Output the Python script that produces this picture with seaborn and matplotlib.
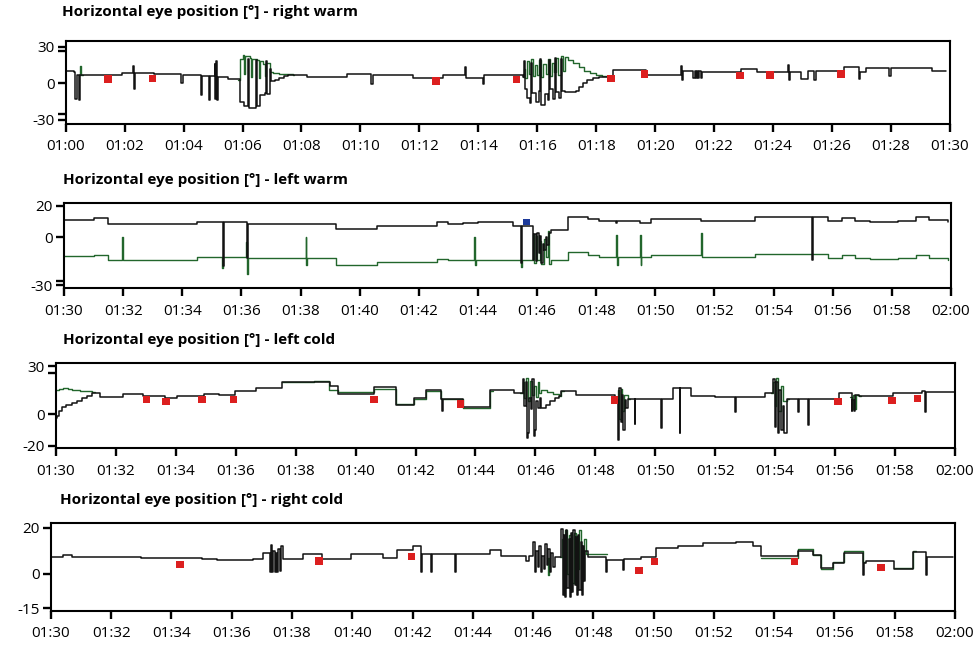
import matplotlib
matplotlib.use("Agg")
import matplotlib.pyplot as plt
import pandas as pd
import seaborn as sns

# ---------------- data ----------------
TITLES = [
    "Horizontal eye position [°] - right warm",
    "Horizontal eye position [°] - left warm",
    "Horizontal eye position [°] - left cold",
    "Horizontal eye position [°] - right cold",
]
XTICKS = [0, 2, 4, 6, 8, 10, 12, 14, 16, 18, 20, 22, 24, 26, 28, 30]
XLABELS_1 = ["01:00", "01:02", "01:04", "01:06", "01:08", "01:10", "01:12", "01:14",
             "01:16", "01:18", "01:20", "01:22", "01:24", "01:26", "01:28", "01:30"]
XLABELS_2 = ["01:30", "01:32", "01:34", "01:36", "01:38", "01:40", "01:42", "01:44",
             "01:46", "01:48", "01:50", "01:52", "01:54", "01:56", "01:58", "02:00"]
YTICKS = [[-30, 0, 30], [-30, 0, 20], [-20, 0, 30], [-15, 0, 20]]
YMINOR = [[-25.4, 26.7], [-27.5], [25.7], []]
YLIMS = [(-33.4, 34.9), (-32.0, 21.5), (-21.6, 32.4), (-16.1, 22.3)]

# time in minutes from panel start, value in degrees (step traces)
P1_BLACK = [
    (0.00, 10), (0.28, 9), (0.33, -13), (0.37, 7), (0.44, -14), (0.47, 7),
    (1.90, 8.5), (2.28, 14), (2.31, -5), (2.34, 8.5), (3.00, 7.5), (3.93, 0.5), (3.97, 7),
    (4.30, 6.5), (4.58, -10), (4.61, 6), (4.86, -14), (4.89, 6), (5.05, 16), (5.08, -13),
    (5.11, 18), (5.14, -14), (5.17, 5), (5.50, 3.5), (5.90, 3), (5.93, -15), (6.05, -19),
    (6.20, 20), (6.23, -20), (6.45, 19), (6.48, -19), (6.60, -10), (6.75, -8), (6.80, 18),
    (6.83, -9), (6.93, 12), (6.96, 1.5), (7.10, 3), (7.25, 4.5), (7.40, 5.8), (7.55, 6.5),
    (7.70, 7.2), (8.20, 5), (9.55, 7.5), (10.35, -0.5), (10.42, 7), (11.80, 4.5), (12.80, 7),
    (13.55, 13), (13.58, 4.5), (14.16, -0.5), (14.19, 6.5), (15.50, 5),
    (15.55, 18), (15.58, -5), (15.65, -12), (15.75, -16), (15.80, 17), (15.83, -8),
    (15.95, -15), (16.05, -6), (16.10, 20), (16.13, -18), (16.25, -9), (16.35, -14),
    (16.40, 19), (16.43, -5), (16.55, -13), (16.60, 21), (16.63, -7), (16.75, -12),
    (16.80, 20), (16.83, -6), (16.93, -7), (17.30, -6), (17.40, -3), (17.55, 0),
    (17.70, 2.5), (17.90, 4), (18.10, 5), (18.45, 5.4), (18.56, 10.9), (19.70, 7),
    (20.88, 14), (20.91, 3), (20.94, 10), (21.30, 4), (21.34, 10), (21.38, 4), (21.42, 10),
    (21.46, 4), (21.50, 10), (21.54, 4), (21.58, 9.5), (22.90, 11.5), (23.47, 9.5),
    (24.50, 15), (24.53, 3), (24.56, 9.5), (24.95, 3.5), (25.20, 10), (25.40, 2.5),
    (25.47, 10), (26.40, 13), (26.90, 3.5), (26.96, 9), (27.15, 12.3), (27.95, 6),
    (28.00, 12.3), (29.40, 10.3), (29.86, 10.3),
]
P1_GREEN = [
    [(0.45, 7), (0.50, 14), (0.53, 7), (0.60, 7)],
    [(5.85, 3), (5.90, 20), (6.00, 23), (6.05, 8), (6.08, 22), (6.25, 21), (6.30, 5),
     (6.33, 20), (6.50, 19), (6.55, 4), (6.58, 18), (6.70, 16), (6.75, 6), (6.78, 17),
     (6.93, 9), (7.05, 8.5), (7.25, 8), (7.45, 7.6), (7.70, 7.2), (7.75, 7.2)],
    [(15.50, 5), (15.55, 12), (15.60, 4), (15.65, 18), (15.72, 8), (15.78, 20), (15.85, 6),
     (15.92, 15), (16.00, 7), (16.05, 19), (16.12, 5), (16.20, 16), (16.28, 8), (16.35, 20),
     (16.42, 6), (16.50, 17), (16.58, 9), (16.65, 21), (16.72, 7), (16.80, 22), (16.88, 10),
     (16.93, 21.8), (17.05, 19.5), (17.20, 16.5), (17.40, 13.6), (17.60, 10.5),
     (17.80, 8.5), (18.00, 7), (18.20, 6), (18.45, 5.4), (18.50, 5.4)],
]
P1_RED_T = [1.44, 2.95, 12.57, 15.30, 18.50, 19.64, 22.88, 23.90, 26.30]
P1_RED_V = [3.5, 4.0, 1.9, 3.3, 4.0, 7.6, 6.2, 6.8, 7.6]

P2_BLACK = [
    (0.00, 11), (1.00, 12), (1.50, 8.4), (4.50, 9.9), (5.37, -18), (5.40, 9.9),
    (6.18, -13), (6.21, 8.4), (9.20, 5.2), (10.60, 7.1), (12.60, 9.6), (13.00, 8.2),
    (13.50, 9.4), (14.00, 9.9), (15.20, 7), (15.45, -16), (15.50, 7.4), (15.85, -14),
    (15.90, 2), (15.95, -15), (16.00, 3), (16.05, -10), (16.10, 1), (16.15, -16),
    (16.20, -4), (16.25, -8), (16.30, 0), (16.35, -5), (16.40, 3), (16.47, 4.6),
    (17.04, 13), (17.72, 11.3), (18.10, 10.5), (18.68, 9), (18.71, 10.5), (19.47, 8.8),
    (19.86, 11.6), (21.56, 10.5), (23.36, 12.6), (25.30, -14), (25.33, 12.6),
    (25.85, 10.3), (26.30, 12), (26.76, 10.5), (27.25, 9.6), (28.20, 10.5),
    (28.80, 12.6), (29.24, 11), (29.90, 10),
]
P2_GREEN = [[
    (0.00, -11.6), (1.00, -11), (1.50, -13.9), (1.97, 0), (2.00, -13.9), (4.50, -12.6),
    (5.35, -19), (5.38, -12.6), (6.15, -3), (6.18, -23), (6.21, -13), (8.17, 0),
    (8.20, -17.5), (8.23, -13), (9.20, -17.5), (10.60, -15.4), (12.60, -13.5),
    (13.00, -14.5), (13.86, 0), (13.89, -17.5), (13.92, -14.4), (15.45, -18.6),
    (15.48, -14), (15.85, 2), (15.88, -16), (15.95, 1), (16.00, -14), (16.10, -2),
    (16.15, -17), (16.22, -1), (16.30, -12), (16.38, 4), (16.42, -17), (16.47, -14.4),
    (17.04, -9.1), (17.72, -10.8), (18.10, -12.3), (18.68, 1.5), (18.71, -17.6),
    (18.74, -12.3), (19.47, 1.5), (19.50, -17.6), (19.53, -12.3), (19.86, -11.2),
    (21.56, 2.5), (21.59, -12.3), (23.36, -10.6), (25.85, -12.7), (26.30, -11.3),
    (26.76, -12.7), (27.25, -13.5), (28.20, -12.7), (28.80, -11), (29.24, -12.7),
    (29.90, -13.9),
]]
P2_BLUE_T = [15.65]
P2_BLUE_V = [9.7]

P3_BLACK = [
    (0.00, -2.7), (0.05, -1), (0.10, 2), (0.19, 4.6), (0.35, 6), (0.53, 6.7), (0.70, 8.5),
    (0.87, 9.9), (1.05, 11.5), (1.21, 13), (1.47, 10.5), (2.25, 12.6), (2.92, 11.4),
    (3.65, 10), (4.04, 11.4), (4.93, 12.6), (5.43, 11.9), (5.99, 14.7), (6.66, 16.2),
    (7.55, 20.4), (9.16, 18), (9.40, 12.6), (10.60, 16.8), (11.34, 5.7), (11.95, 9.9),
    (12.34, 15.1), (12.84, 9.2), (12.87, 2.1), (12.90, 9.2), (13.60, 4.6), (14.50, 15.1),
    (15.30, 13.5), (15.57, 22), (15.62, 5), (15.67, 20), (15.72, -15), (15.76, -12),
    (15.80, 10), (15.85, 3), (15.90, 22), (15.95, -14), (15.99, -10), (16.02, 8),
    (16.08, 4), (16.15, 10), (16.19, 3.6), (16.35, 6), (16.50, 8.5), (16.65, 10.3),
    (16.80, 11.2), (16.86, 14.7),
    (17.36, 12), (18.64, 8.8), (18.75, -16.4), (18.80, 16.2), (18.84, -5), (18.88, 12),
    (18.93, -10), (18.98, 9), (19.03, 4), (19.09, 9.3), (19.31, -6), (19.34, 9.3),
    (20.18, -9), (20.22, 9.3), (20.60, 16.2), (20.81, -12), (20.84, 16.2), (21.20, 11.4),
    (22.00, 10.8), (22.65, 1.5), (22.69, 10.8), (23.66, 13.5), (23.93, 22), (23.98, -8),
    (24.03, 20), (24.08, -12), (24.13, 15), (24.18, -10), (24.25, 5), (24.30, -12),
    (24.38, 9.3), (24.76, 1.5), (24.79, 9.3), (25.10, -7), (25.13, 9.3), (26.12, 13),
    (26.55, 2.1), (26.58, 9), (26.62, 2.1), (26.66, 12), (26.80, 11.4), (27.92, 13),
    (28.90, 14.7), (29.00, 1.5), (29.03, 14), (30.00, 14),
]
P3_GREEN = [
    [(0.00, 15), (0.10, 15.5), (0.25, 16.2), (0.40, 15.5), (0.53, 15), (0.80, 14.3),
     (1.21, 13.8), (1.30, 13.8)],
    [(7.55, 20.4), (8.60, 21), (9.05, 21), (9.10, 15.1), (9.40, 13.7), (10.60, 15.8),
     (11.34, 6.5), (11.95, 9.5), (12.34, 14.5), (12.84, 9.8), (13.60, 4), (14.50, 14.5),
     (14.60, 14.5)],
    [(15.50, 13.5), (15.57, 20), (15.63, 10), (15.70, 22.5), (15.76, 8), (15.82, 21),
     (15.88, 12), (15.95, 18), (16.02, 11), (16.08, 20), (16.12, 13), (16.19, 15),
     (16.40, 13.8), (16.60, 12.5), (16.80, 11.6), (16.86, 14.7), (16.95, 14.7)],
    [(18.72, 8.8), (18.76, 15), (18.80, -3), (18.85, 16), (18.90, 2), (18.95, 12),
     (19.09, 9.3), (19.15, 9.3)],
    [(23.85, 13.5), (23.93, 20), (23.98, 5), (24.03, 22.5), (24.10, 2), (24.18, 18),
     (24.25, 8), (24.38, 9.3), (24.45, 9.3)],
    [(26.50, 11), (26.55, 3), (26.60, 12), (26.65, 3), (26.70, 12), (26.80, 11.4),
     (26.85, 11.4)],
]
P3_RED_T = [3.03, 3.67, 4.87, 5.93, 10.61, 13.49, 18.64, 26.10, 27.90, 28.76]
P3_RED_V = [9.2, 7.8, 9.2, 9.2, 9.2, 6.3, 8.8, 7.8, 8.4, 9.9]

P4_BLACK = [
    (0.00, 7.5), (0.41, 8.2), (0.69, 7.5), (3.00, 7), (5.00, 6.5), (5.50, 6.1),
    (6.70, 6.7), (7.04, 9), (7.26, 1), (7.30, 12.6), (7.34, 1), (7.38, 10), (7.42, 1),
    (7.46, 9), (7.50, 1), (7.55, 11), (7.60, 1.5), (7.64, 12), (7.70, 6.6), (8.37, 8.7),
    (8.98, 6.6), (9.97, 8.7), (11.02, 6.8), (11.47, 10.4), (12.00, 12.3), (12.29, 1),
    (12.33, 8.7), (12.62, 1), (12.65, 8.7), (13.40, 1), (13.43, 8.7), (14.56, 10.4),
    (14.95, 7.8), (15.78, 5.5), (15.85, 7.8), (16.00, 13.7), (16.05, 1), (16.10, 10),
    (16.15, 3), (16.20, 12), (16.25, 1), (16.30, 8), (16.35, 2), (16.40, 13), (16.45, 4),
    (16.50, 11), (16.55, 1), (16.60, 9), (16.65, 3), (16.72, 7.5), (16.94, 19.4),
    (16.98, -9), (17.02, 17), (17.06, -10), (17.10, 19), (17.14, -6), (17.18, 15),
    (17.22, -9.9), (17.26, 18), (17.30, -8), (17.34, 19), (17.38, -5), (17.42, 16),
    (17.46, -9), (17.50, 17), (17.54, -7), (17.58, 14), (17.62, -9), (17.66, 12),
    (17.70, -3), (17.74, 10), (17.82, 7.5), (18.43, 1), (18.46, 6.1), (18.98, 1.8),
    (19.01, 6.6), (19.59, 7.3), (20.09, 11.3), (20.80, 12.1), (21.63, 13.3),
    (22.74, 13.8), (23.30, 12.2), (23.57, 7.8), (24.78, 10.1), (25.28, 8.2), (25.56, 2.4),
    (25.95, 4.9), (26.33, 9.3), (26.94, -0.5), (26.97, 4.9), (27.05, 5.8), (27.99, 2.0),
    (28.60, 9.7), (29.04, -0.4), (29.07, 7.5), (29.93, 7.5),
]
P4_GREEN = [
    [(16.45, 7), (16.50, -0.5), (16.53, 7), (16.56, 7)],
    [(16.90, 7.5), (16.96, 15), (17.00, -2), (17.05, 19), (17.12, 0), (17.20, 17),
     (17.28, -4), (17.36, 18), (17.44, 2), (17.52, 19), (17.60, -2), (17.68, 15),
     (17.76, 8.5), (18.43, 8.5), (18.45, 8.5)],
    [(23.57, 6.8), (24.78, 10.8), (25.28, 8.2), (25.56, 2.0), (25.95, 5.4), (26.33, 9.8),
     (26.94, 5), (27.00, 5)],
    [(27.99, 2.6), (28.60, 9.9), (28.70, 9.9)],
]
P4_RED_T = [4.28, 8.90, 11.96, 19.51, 20.03, 24.68, 27.55]
P4_RED_V = [4.2, 5.6, 7.5, 1.4, 5.4, 5.4, 2.9]

# ---------------- style ----------------
sns.set_style("ticks")
plt.rcParams["font.family"] = ["Open Sans", "DejaVu Sans"]
TICK_FONT = ["Liberation Sans Narrow", "Open Sans", "DejaVu Sans"]

BLACK = "#121212"
GREEN = "#22662c"
RED = "#dc1f1f"
BLUE = "#1d3a9a"

fig = plt.figure(figsize=(9.8, 6.48), dpi=100)
fig.patch.set_facecolor("white")

# axes rectangles in figure fraction (layout)
RECTS = [
    (0.0670, 0.8086, 0.9023, 0.1285),
    (0.0653, 0.5551, 0.9051, 0.1312),
    (0.0571, 0.3082, 0.9173, 0.1321),
    (0.0520, 0.0571, 0.9224, 0.1363),
]
TITLE_POS = [(0.0633, 0.9815), (0.0640, 0.7222), (0.0640, 0.4753), (0.0612, 0.2284)]

panels = [
    (P1_BLACK, P1_GREEN, P1_RED_T, P1_RED_V, XLABELS_1),
    (P2_BLACK, P2_GREEN, [], [], XLABELS_2),
    (P3_BLACK, P3_GREEN, P3_RED_T, P3_RED_V, XLABELS_2),
    (P4_BLACK, P4_GREEN, P4_RED_T, P4_RED_V, XLABELS_2),
]


def green_frame(segs):
    rows = []
    for i, seg in enumerate(segs):
        for t, v in seg:
            rows.append((t, v, i))
    return pd.DataFrame(rows, columns=["t", "v", "seg"])


for i, (blk, grn, rt, rv, xl) in enumerate(panels):
    ax = fig.add_axes(RECTS[i])
    gdf = green_frame(grn)
    sns.lineplot(data=gdf, x="t", y="v", units="seg", estimator=None, sort=False,
                 color=GREEN, lw=1.0, drawstyle="steps-post", ax=ax, legend=False)
    bdf = pd.DataFrame(blk, columns=["t", "v"])
    sns.lineplot(data=bdf, x="t", y="v", estimator=None, sort=False,
                 color=BLACK, lw=1.1, drawstyle="steps-post", ax=ax, legend=False)
    if rt:
        sns.scatterplot(x=rt, y=rv, marker="s", s=28, color=RED, edgecolor="none",
                        ax=ax, legend=False, zorder=5)
    if i == 1:
        sns.scatterplot(x=P2_BLUE_T, y=P2_BLUE_V, marker="s", s=24, color=BLUE,
                        edgecolor="none", ax=ax, legend=False, zorder=5)

    ax.set_xlim(0, 30)
    ax.set_ylim(*YLIMS[i])
    ax.set_xticks(XTICKS)
    ax.set_xticklabels(xl, family=TICK_FONT, fontsize=11)
    ax.set_yticks(YTICKS[i])
    ax.set_yticklabels([str(v) for v in YTICKS[i]], family=TICK_FONT, fontsize=11)
    if YMINOR[i]:
        ax.set_yticks(YMINOR[i], minor=True)
    ax.set_xlabel("")
    ax.set_ylabel("")
    for sp in ax.spines.values():
        sp.set_visible(True)
        sp.set_color("black")
        sp.set_linewidth(1.5)
    ax.tick_params(axis="both", which="both", direction="out", length=6, width=1.7,
                   color="black", labelcolor="black")
    ax.tick_params(axis="x", which="major", bottom=True, top=False, pad=5)
    ax.tick_params(axis="y", which="both", left=True, right=False, pad=2)
    ax.grid(False)

    fig.text(TITLE_POS[i][0], TITLE_POS[i][1], TITLES[i], ha="left", va="center",
             fontsize=11, fontweight="bold", color="black")

fig.savefig("out.png", dpi=100, facecolor="white")
